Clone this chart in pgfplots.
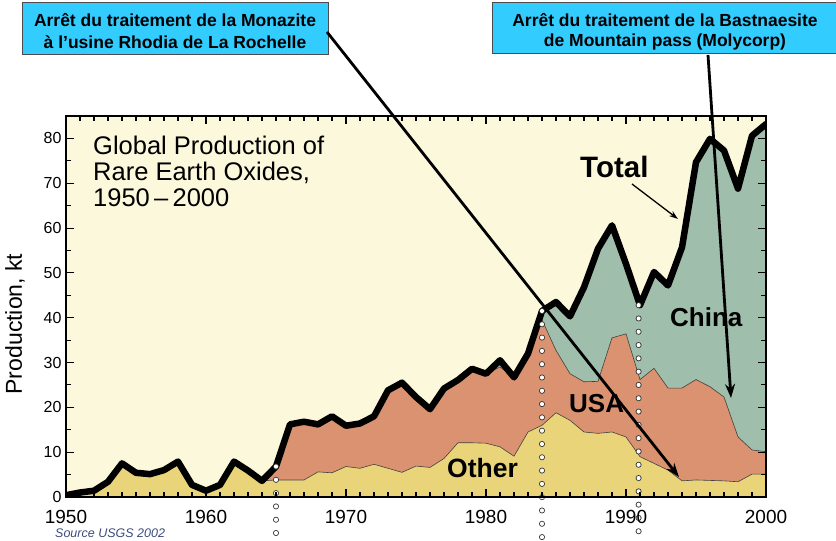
\documentclass[border=0pt]{standalone}
\usepackage{fontspec}
\setmainfont{Liberation Sans}
\usepackage{pgfplots}
\usepackage{pgfplotstable}
\pgfplotsset{compat=1.18}
\usetikzlibrary{arrows.meta}

\definecolor{cream}{RGB}{252,248,220}
\definecolor{otherc}{RGB}{233,212,122}
\definecolor{usac}{RGB}{218,146,112}
\definecolor{chinac}{RGB}{160,190,172}
\definecolor{boxc}{RGB}{51,204,255}
\definecolor{srcc}{RGB}{60,75,125}

\pgfplotstableread{
year other usa total
1950 0.4 0.4 0.4
1951 1.0 1.0 1.0
1952 1.4 1.4 1.4
1953 3.4 3.4 3.4
1954 7.5 7.5 7.5
1955 5.4 5.4 5.4
1956 5.1 5.1 5.1
1957 6.0 6.0 6.0
1958 7.9 7.9 7.9
1959 2.7 2.7 2.7
1960 1.4 1.4 1.4
1961 2.7 2.7 2.7
1962 7.9 7.9 7.9
1963 5.9 5.9 5.9
1964 3.6 3.6 3.6
1965 3.8 6.8 6.8
1966 3.8 16.2 16.2
1967 3.8 16.8 16.8
1968 5.6 16.2 16.2
1969 5.4 18.0 18.0
1970 6.8 15.9 15.9
1971 6.4 16.4 16.4
1972 7.3 18.0 18.0
1973 6.4 23.8 23.8
1974 5.5 25.5 25.5
1975 6.9 22.3 22.3
1976 6.6 19.6 19.6
1977 8.6 24.2 24.2
1978 12.1 26.1 26.1
1979 12.1 28.6 28.6
1980 12.0 27.5 27.5
1981 11.2 29.0 30.5
1982 9.1 26.7 26.7
1983 14.5 32.0 32.0
1984 16.0 39.5 41.5
1985 18.8 32.7 43.5
1986 17.1 27.5 40.3
1987 14.5 25.7 46.8
1988 14.2 25.8 55.4
1989 14.5 35.5 60.6
1990 13.4 36.4 52.0
1991 9.0 26.2 42.8
1992 7.5 28.7 50.2
1993 6.0 24.3 47.2
1994 3.6 24.3 55.7
1995 3.8 26.2 74.7
1996 3.7 24.6 79.9
1997 3.6 22.3 77.3
1998 3.4 13.4 68.8
1999 5.1 10.5 80.6
2000 5.1 10.1 83.2
}\data

\tikzset{
  dotout/.style={black!80, line width=6pt, line cap=round, dash pattern=on 0pt off 13.3pt},
  dotin/.style={white, line width=4.2pt, line cap=round, dash pattern=on 0pt off 13.3pt},
}

\begin{document}
\begin{tikzpicture}[x=1pt,y=1pt]
\useasboundingbox (0,0) rectangle (836,541);
\begin{axis}[
  at={(66pt,44pt)}, anchor=south west, scale only axis,
  width=700pt, height=381pt,
  xmin=1950, xmax=2000, ymin=0, ymax=85,
  axis on top, clip mode=individual,
  axis background/.style={fill=cream},
  axis line style={line width=1.4pt},
  xtick={1950,1960,1970,1980,1990,2000},
  xticklabels={1950,1960,1970,1980,1990,2000},
  minor x tick num=9,
  ytick={0,10,...,80}, minor y tick num=1,
  tick align=inside, major tick length=8pt, minor tick length=5pt,
  every tick/.style={line width=1.1pt, black},
  xticklabel style={font=\fontsize{19}{19}\selectfont, yshift=-10pt},
  yticklabel style={font=\fontsize{16}{16}\selectfont, xshift=-1pt},
  /pgf/number format/assume math mode=true,
  ylabel={Production, kt},
  ylabel style={font=\fontsize{23}{23}\selectfont, at={(ticklabel cs:0.454,12pt)}},
]
\addplot[fill=chinac, draw=none] table[x=year,y=total]{\data} \closedcycle;
\addplot[fill=usac, draw=none] table[x=year,y=usa]{\data} \closedcycle;
\addplot[fill=otherc, draw=none] table[x=year,y=other]{\data} \closedcycle;
\addplot[draw=black!75, line width=0.6pt] table[x=year,y=usa]{\data};
\addplot[draw=black!75, line width=0.6pt] table[x=year,y=other]{\data};
\addplot[draw=black, line width=6.5pt, line join=round, line cap=round] table[x=year,y=total]{\data};
% dotted markers
\draw[dotout] (axis cs:1965,6.8) -- (axis cs:1965,-11);
\draw[dotin] (axis cs:1965,6.8) -- (axis cs:1965,-11);
\draw[dotout] (axis cs:1984,41.5) -- (axis cs:1984,-11);
\draw[dotin] (axis cs:1984,41.5) -- (axis cs:1984,-11);
\draw[dotout] (axis cs:1990.9,42.8) -- (axis cs:1990.9,-11);
\draw[dotin] (axis cs:1990.9,42.8) -- (axis cs:1990.9,-11);
\end{axis}
% title
\tikzset{every node/.append style={inner sep=0pt}}
\node[anchor=base west, font=\fontsize{25.5}{26}\selectfont] at (93,386) {Global Production of};
\node[anchor=base west, font=\fontsize{25.5}{26}\selectfont] at (93,360) {Rare Earth Oxides,};
\node[anchor=base west, font=\fontsize{25.5}{26}\selectfont] at (93,334) {1950\,--\,2000};
% series labels
\node[anchor=base west, font=\bfseries\fontsize{29.5}{29}\selectfont] at (580,363) {Total};
\node[anchor=base west, font=\bfseries\fontsize{26}{26}\selectfont] at (670,214) {China};
\node[anchor=base west, font=\bfseries\fontsize{26}{26}\selectfont] at (569,128) {USA};
\node[anchor=base west, font=\bfseries\fontsize{26.5}{26}\selectfont] at (447,63) {Other};
\draw[line width=1.3pt, -{Stealth[length=9pt,width=6pt]}] (632,357) -- (678,322);
% boxes
\draw[draw=black!70, fill=boxc, line width=1pt] (22,486) rectangle (328,538);
\node[font=\bfseries\fontsize{17.5}{17}\selectfont] at (175,521) {Arrêt du traitement de la Monazite};
\node[font=\bfseries\fontsize{17.5}{17}\selectfont] at (175,499) {à l’usine Rhodia de La Rochelle};
\draw[draw=black!70, fill=boxc, line width=1pt] (492,487) rectangle (842,538);
\node[font=\bfseries\fontsize{17.5}{17}\selectfont] at (665,521) {Arrêt du traitement de la Bastnaesite};
\node[font=\bfseries\fontsize{17.5}{17}\selectfont] at (665,499) {de Mountain pass (Molycorp)};
% long arrows
\draw[line width=2.8pt, -{Stealth[length=14pt,width=10pt]}] (327,509) -- (679,64);
\draw[line width=2.8pt, -{Stealth[length=14pt,width=10pt]}] (708,486) -- (731,143);
% source
\node[anchor=base west, font=\itshape\fontsize{12.5}{12}\selectfont, text=srcc] at (55,3) {Source USGS 2002};
\end{tikzpicture}
\end{document}
